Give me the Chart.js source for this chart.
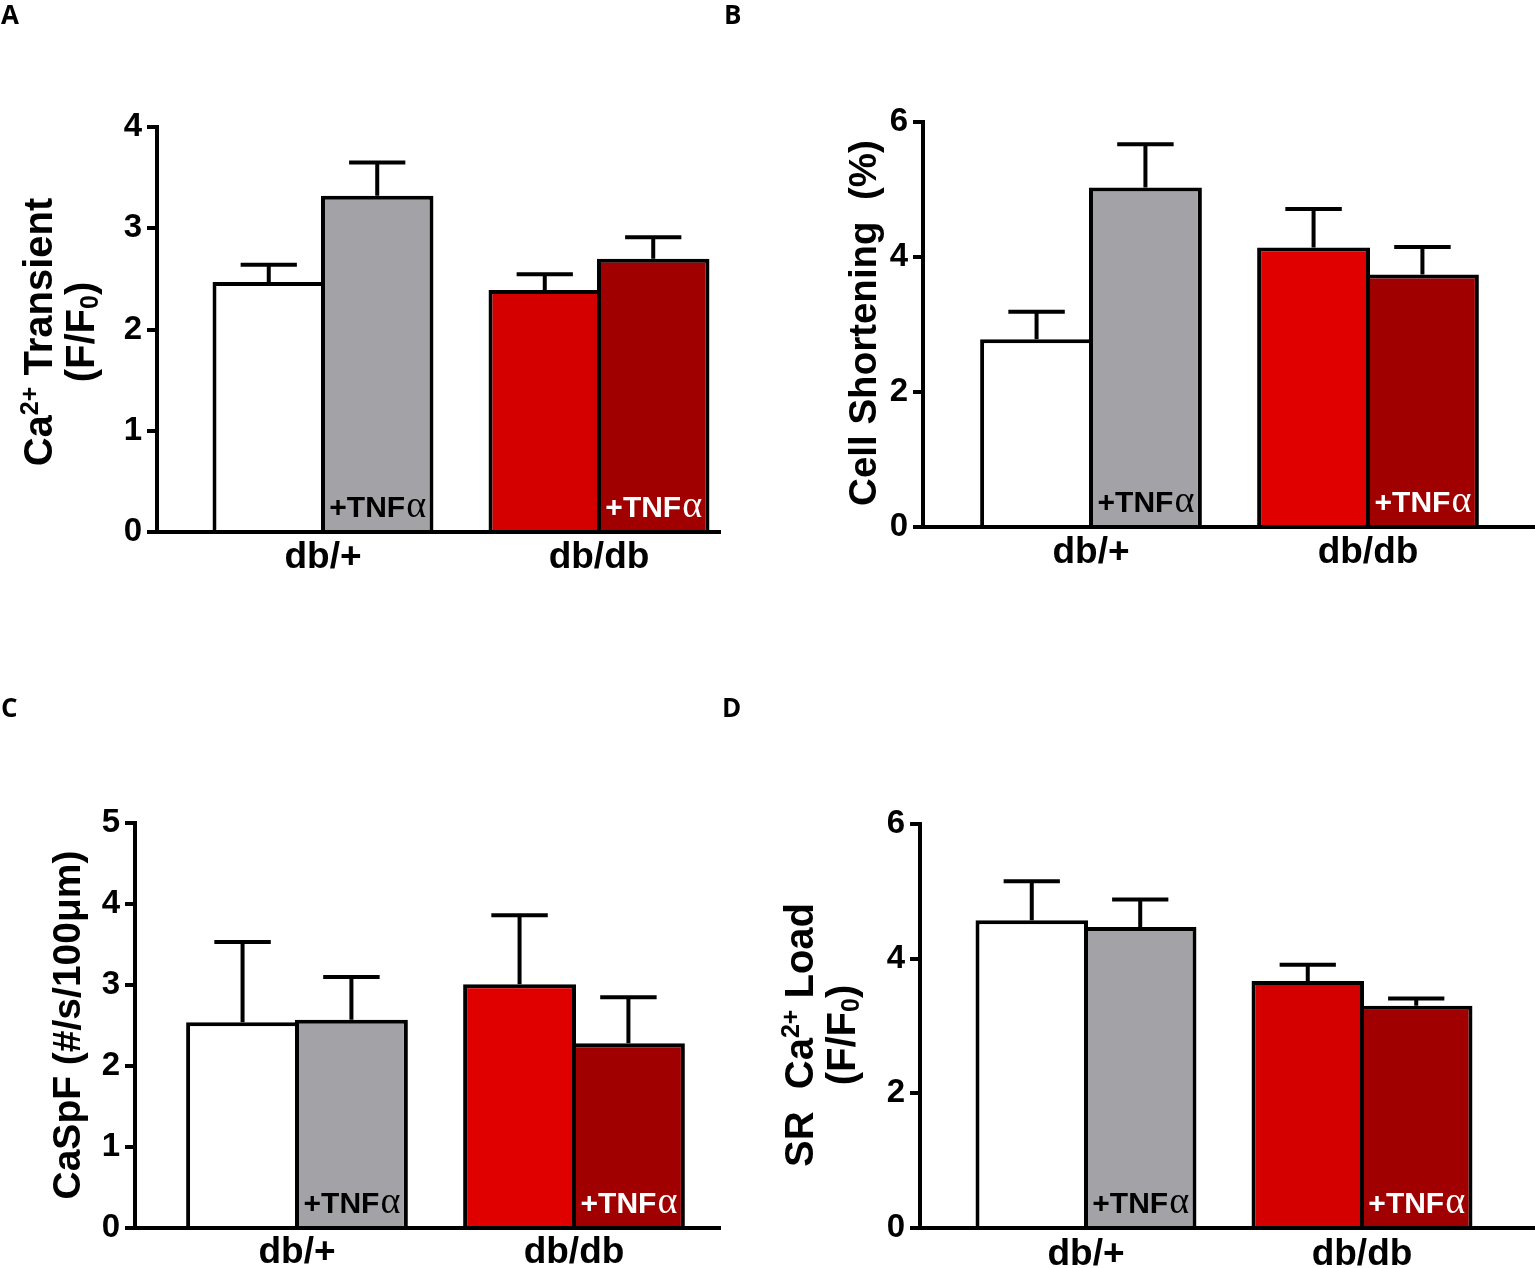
<!DOCTYPE html>
<html>
<head>
<meta charset="utf-8">
<script src="https://cdn.jsdelivr.net/npm/chart.js@4"></script>
<style>
  html, body { margin: 0; padding: 0; background: #fff; }
  #page { position: relative; width: 1535px; height: 1268px; overflow: hidden; }
  canvas { position: absolute; }
  .tag { position: absolute; font: bold 26px 'Open Sans', 'Liberation Sans', sans-serif; line-height: 1; color: #000; }
</style>
</head>
<body>
<div id="page">
  <canvas id="chartA" width="732" height="600" style="left:0;top:0"></canvas>
  <canvas id="chartB" width="800" height="600" style="left:735px;top:0"></canvas>
  <canvas id="chartC" width="732" height="618" style="left:0;top:650px"></canvas>
  <canvas id="chartD" width="800" height="618" style="left:735px;top:650px"></canvas>
  <div class="tag" style="left:1px;top:1px">A</div>
  <div class="tag" style="left:724px;top:1px">B</div>
  <div class="tag" style="left:1px;top:694px">C</div>
  <div class="tag" style="left:722px;top:694px">D</div>
</div>
<script>
// ── DATA ──────────────────────────────────────────────────────────────────────
const groups = ['db/+', 'db/db'];

// A: Ca2+ transient (F/F0)
const aCtrl = [2.47, 2.39],  aCtrlSem = [0.17, 0.155];
const aTnf  = [3.32, 2.70],  aTnfSem  = [0.33, 0.21];
const aTicks = [0, 1, 2, 3, 4];

// B: cell shortening (%)
const bCtrl = [2.78, 4.14],  bCtrlSem = [0.41, 0.57];
const bTnf  = [5.03, 3.74],  bTnfSem  = [0.64, 0.41];
const bTicks = [0, 2, 4, 6];

// C: CaSpF (#/s/100µm)
const cCtrl = [2.54, 3.01],  cCtrlSem = [0.99, 0.85];
const cTnf  = [2.57, 2.28],  cTnfSem  = [0.53, 0.57];
const cTicks = [0, 1, 2, 3, 4, 5];

// D: SR Ca2+ load (F/F0)
const dCtrl = [4.57, 3.67],  dCtrlSem = [0.58, 0.24];
const dTnf  = [4.47, 3.30],  dTnfSem  = [0.41, 0.11];
const dTicks = [0, 2, 4, 6];

// ── STYLE ─────────────────────────────────────────────────────────────────────
const GRAY = '#a3a2a6';
const DARK_RED = '#a00000';
const SANS = '"Liberation Sans", Arial, sans-serif';
const SERIF = '"Liberation Serif", serif';

Chart.defaults.font.family = SANS;
Chart.defaults.color = '#000';

// upward-only error bars with a cap
const errorBars = {
    id: 'errorBars',
    afterDatasetsDraw(chart) {
        const ctx = chart.ctx;
        const y = chart.scales.y;
        ctx.save();
        ctx.strokeStyle = '#000';
        ctx.lineWidth = 4;
        chart.data.datasets.forEach((ds, d) => {
            chart.getDatasetMeta(d).data.forEach((bar, i) => {
                const top = y.getPixelForValue(ds.data[i].y + ds.sem[i]);
                const half = bar.width * 0.25;
                ctx.beginPath();
                ctx.moveTo(bar.x, bar.y);
                ctx.lineTo(bar.x, top);
                ctx.moveTo(bar.x - half, top);
                ctx.lineTo(bar.x + half, top);
                ctx.stroke();
            });
        });
        ctx.restore();
    }
};

// "+TNFα" written inside the bottom of the treated bars
const tnfTags = {
    id: 'tnfTags',
    afterDatasetsDraw(chart) {
        const ctx = chart.ctx;
        const base = chart.scales.y.getPixelForValue(0) - 15;
        const colors = ['#000', '#fff'];
        ctx.save();
        ctx.textBaseline = 'alphabetic';
        ctx.textAlign = 'left';
        chart.getDatasetMeta(1).data.forEach((bar, i) => {
            ctx.font = 'bold 30px ' + SANS;
            const w1 = ctx.measureText('+TNF').width;
            ctx.font = '38px ' + SERIF;
            const w2 = ctx.measureText('α').width;
            const x0 = bar.x - (w1 + w2) / 2;
            ctx.fillStyle = colors[i];
            ctx.font = 'bold 30px ' + SANS;
            ctx.fillText('+TNF', x0, base);
            ctx.font = '38px ' + SERIF;
            ctx.fillText('α', x0 + w1 + 1, base);
        });
        ctx.restore();
    }
};

// rotated y title with super/subscripts
function yTitle(lines, xs, yc, size) {
    return {
        id: 'yTitle',
        afterDraw(chart) {
            const ctx = chart.ctx;
            const small = Math.round(size * 0.62);
            const fontFor = m => 'bold ' + (m === 'n' ? size : small) + 'px ' + SANS;
            const shift = { n: 0, sup: -size * 0.36, sub: size * 0.1 };
            ctx.save();
            ctx.fillStyle = '#000';
            ctx.textBaseline = 'alphabetic';
            ctx.textAlign = 'left';
            lines.forEach((segs, li) => {
                let total = 0;
                segs.forEach(([t, m]) => { ctx.font = fontFor(m); total += ctx.measureText(t).width; });
                ctx.save();
                ctx.translate(xs[li], yc);
                ctx.rotate(-Math.PI / 2);
                let cx = -total / 2;
                segs.forEach(([t, m]) => {
                    ctx.font = fontFor(m);
                    ctx.fillText(t, cx, shift[m]);
                    cx += ctx.measureText(t).width;
                });
                ctx.restore();
            });
            ctx.restore();
        }
    };
}

function makeChart(p) {
    const pts = arr => arr.map((v, i) => ({ x: i + 1, y: v }));
    const barBase = { borderColor: '#000', borderWidth: 4, categoryPercentage: 0.786, barPercentage: 1.037 };
    return new Chart(document.getElementById(p.id), {
        type: 'bar',
        data: {
            datasets: [
                Object.assign({ data: pts(p.ctrl), sem: p.ctrlSem, backgroundColor: ['#ffffff', p.red] }, barBase),
                Object.assign({ data: pts(p.tnf), sem: p.tnfSem, backgroundColor: [GRAY, DARK_RED] }, barBase)
            ]
        },
        options: {
            responsive: false,
            animation: false,
            layout: { padding: p.pad },
            plugins: { legend: { display: false }, tooltip: { enabled: false } },
            scales: {
                x: {
                    type: 'linear', min: p.xMin, max: p.xMax, offset: false,
                    afterBuildTicks: s => { s.ticks = [{ value: 1 }, { value: 2 }]; },
                    afterFit: s => { s.height = p.xHeight; },
                    grid: { display: false, drawTicks: false, offset: false },
                    border: { display: true, width: 4, color: '#000' },
                    ticks: {
                        padding: p.xPad,
                        font: { size: 37, weight: 'bold' },
                        callback: v => groups[Math.round(v) - 1]
                    }
                },
                y: {
                    min: 0, max: p.ticks[p.ticks.length - 1],
                    afterBuildTicks: s => { s.ticks = p.ticks.map(v => ({ value: v })); },
                    afterFit: s => { s.width = p.yWidth; },
                    grid: { drawOnChartArea: false, drawTicks: true, tickLength: 10, lineWidth: 4, color: '#000' },
                    border: { display: true, width: 4, color: '#000' },
                    ticks: { padding: 5, font: { size: 33, weight: 'bold' } }
                }
            }
        },
        plugins: [errorBars, tnfTags, yTitle(p.title, p.titleX, p.titleY, p.titleSize)]
    });
}

// ── PANELS ────────────────────────────────────────────────────────────────────
makeChart({
    id: 'chartA', ctrl: aCtrl, ctrlSem: aCtrlSem, tnf: aTnf, tnfSem: aTnfSem, ticks: aTicks, red: '#d40000',
    pad: { top: 127, right: 12, left: 0, bottom: 0 }, yWidth: 157, xHeight: 68, xPad: 4, xMin: 0.3986, xMax: 2.4384,
    title: [[['Ca', 'n'], ['2+', 'sup'], [' Transient', 'n']], [['(F/F', 'n'], ['0', 'sub'], [')', 'n']]],
    titleX: [52, 94], titleY: 332, titleSize: 40
});
makeChart({
    id: 'chartB', ctrl: bCtrl, ctrlSem: bCtrlSem, tnf: bTnf, tnfSem: bTnfSem, ticks: bTicks, red: '#e00000',
    pad: { top: 122, right: 0, left: 0, bottom: 0 }, yWidth: 188, xHeight: 73, xPad: 4, xMin: 0.3935, xMax: 2.6029,
    title: [[['Cell Shortening  (%)', 'n']]],
    titleX: [141], titleY: 323, titleSize: 38.5
});
makeChart({
    id: 'chartC', ctrl: cCtrl, ctrlSem: cCtrlSem, tnf: cTnf, tnfSem: cTnfSem, ticks: cTicks, red: '#e00000',
    pad: { top: 173, right: 12, left: 0, bottom: 0 }, yWidth: 135, xHeight: 40, xPad: 3, xMin: 0.4152, xMax: 2.5271,
    title: [[['CaSpF (#/s/100μm)', 'n']]],
    titleX: [80], titleY: 375, titleSize: 39
});
makeChart({
    id: 'chartD', ctrl: dCtrl, ctrlSem: dCtrlSem, tnf: dTnf, tnfSem: dTnfSem, ticks: dTicks, red: '#d40000',
    pad: { top: 174, right: 0, left: 0, bottom: 0 }, yWidth: 185, xHeight: 40, xPad: 5, xMin: 0.3986, xMax: 2.6268,
    title: [[['SR  Ca', 'n'], ['2+', 'sup'], [' Load', 'n']], [['(F/F', 'n'], ['0', 'sub'], [')', 'n']]],
    titleX: [78, 120], titleY: 385, titleSize: 40
});
</script>
</body>
</html>
